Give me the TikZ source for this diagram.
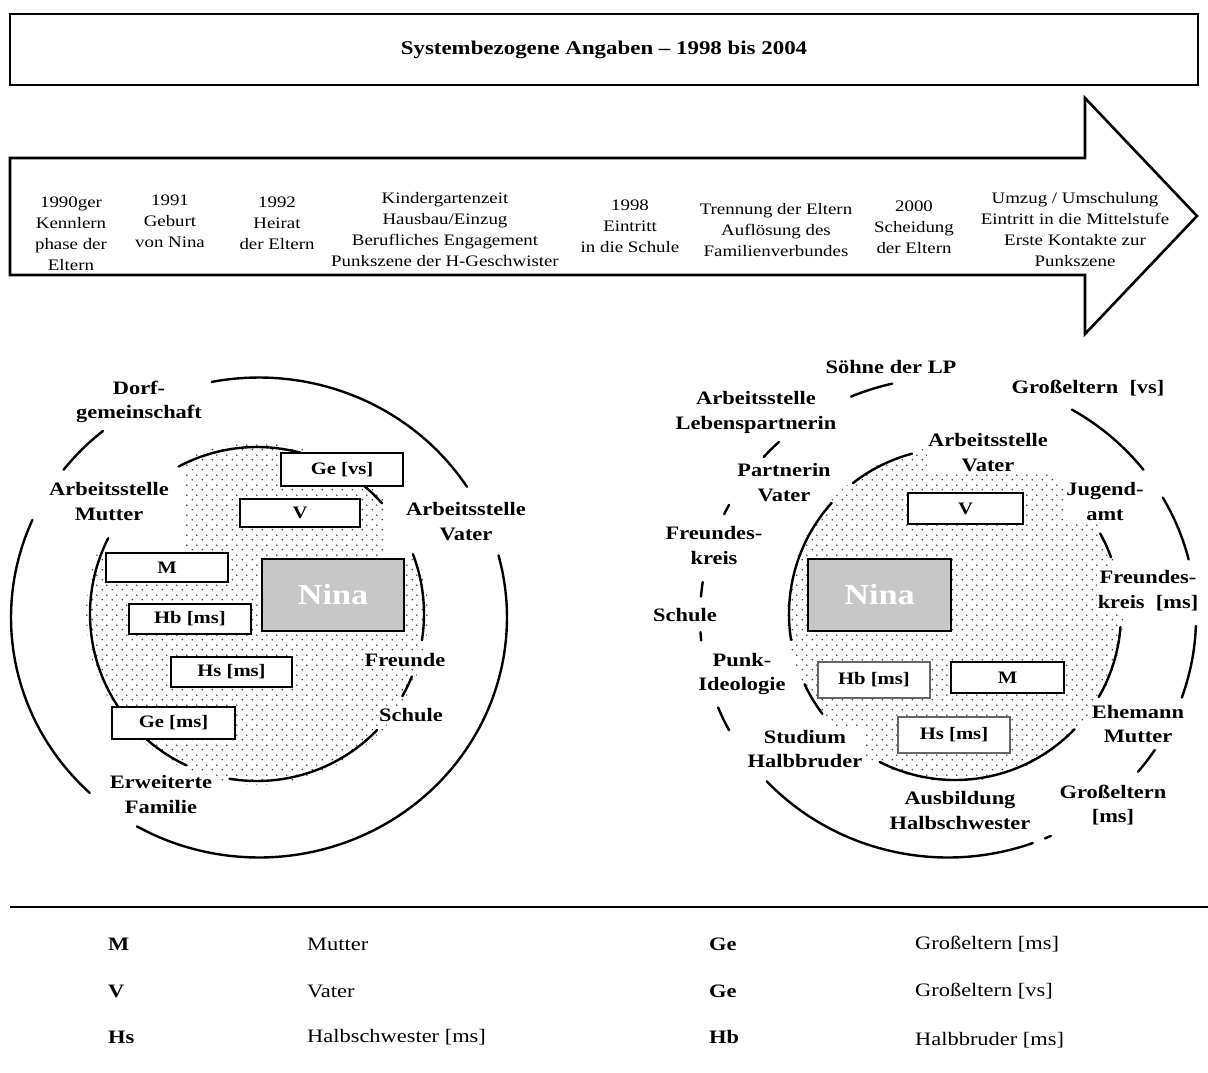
\documentclass[tikz,border=0pt]{standalone}
\usepackage{fontspec}
\setmainfont{Liberation Serif}[FakeStretch=1.18]
\usetikzlibrary{patterns}

% halftone dot screen used for the inner circles
\pgfdeclarepatternformonly{halftone}{\pgfpointorigin}{\pgfpoint{10pt}{10pt}}{\pgfpoint{10pt}{10pt}}{%
  \pgfpathcircle{\pgfpoint{2.5pt}{2.5pt}}{0.85pt}%
  \pgfpathcircle{\pgfpoint{7.5pt}{7.5pt}}{0.85pt}%
  \pgfusepath{fill}}

% elliptic arc: centre x, centre y, x radius, y radius, from angle, to angle
\newcommand{\ringarc}[6]{%
  \draw[ringline] plot[domain=#5:#6, samples=36, smooth, variable=\ang]
    ({#1+#3*cos(\ang)},{#2+#4*sin(\ang)});}

\tikzset{
  ringline/.style={line width=2.4pt, line cap=round},
  phasetext/.style={align=center, font=\fontsize{16}{21}\selectfont, inner sep=0pt},
  sectorlabel/.style={align=center, font=\bfseries\fontsize{19}{24.5}\selectfont, fill=white, inner sep=1pt},
  memberbox/.style={draw, line width=2.6pt, fill=white, inner sep=0pt, font=\bfseries\fontsize{17.5}{20}\selectfont},
  softbox/.style={memberbox, draw=black!60},
  egobox/.style={draw, line width=2.6pt, fill=black!22, text=white, inner sep=0pt, font=\bfseries\fontsize{29}{32}\selectfont},
  legkey/.style={anchor=west, inner sep=0pt, font=\bfseries\fontsize{19}{22}\selectfont},
  legtext/.style={anchor=west, inner sep=0pt, font=\fontsize{19}{22}\selectfont},
}

\begin{document}
\begin{tikzpicture}[x=1pt, y=-1pt]
\useasboundingbox (0,0) rectangle (1208,1072);

% title bar
\draw[line width=2pt] (10,14) rectangle (1198,85);
\node[font=\bfseries\fontsize{19.4}{23}\selectfont] (title) at (604,50) {Systembezogene Angaben -- 1998 bis 2004};

% time line arrow
\draw[line width=2.6pt, line join=miter] (10,158) -- (1085,158) -- (1085,98) -- (1197,216)
  -- (1085,334) -- (1085,275) -- (10,275) -- cycle;
\node[phasetext] (p1) at (71,233.5) {1990ger\\Kennlern\\phase der\\Eltern};
\node[phasetext] (p2) at (170,221) {1991\\Geburt\\von Nina};
\node[phasetext] (p3) at (277,223) {1992\\Heirat\\der Eltern};
\node[phasetext] (p4) at (445,230) {Kindergartenzeit\\Hausbau/Einzug\\Berufliches Engagement\\Punkszene der H-Geschwister};
\node[phasetext] (p5) at (630,226) {1998\\Eintritt\\in die Schule};
\node[phasetext] (p6) at (776,230) {Trennung der Eltern\\Auflösung des\\Familienverbundes};
\node[phasetext] (p7) at (914,227) {2000\\Scheidung\\der Eltern};
\node[phasetext] (p8) at (1075,230) {Umzug / Umschulung\\Eintritt in die Mittelstufe\\Erste Kontakte zur\\Punkszene};

% ---------- left network ----------
\begin{scope}
  \clip (257,614) circle[radius=171pt];
  \fill[pattern=halftone, pattern color=black!85]
    (186,430) -- (384,430) -- (384,558) -- (440,558) -- (440,800) -- (70,800) -- (70,553) -- (186,553) -- cycle;
\end{scope}

\node[sectorlabel] (lDorf) at (139,402) {Dorf-\\gemeinschaft};
\node[sectorlabel] (lAM) at (109,501.5) {Arbeitsstelle\\Mutter};
\node[sectorlabel] (lAV) at (466,521.5) {Arbeitsstelle\\Vater};
\node[sectorlabel] (lFr) at (405,660) {Freunde};
\node[sectorlabel] (lSch) at (411,715) {Schule};
\node[sectorlabel] (lEF) at (161,794.5) {Erweiterte\\Familie};

\ringarc{259}{617.5}{248}{240}{-101}{-33}
\ringarc{259}{617.5}{248}{240}{-15}{119.5}
\ringarc{259}{617.5}{248}{240}{133}{204}
\ringarc{259}{617.5}{248}{240}{218}{231}

\ringarc{257}{614}{167}{167}{-118}{-41.5}
\ringarc{257}{614}{167}{167}{-21}{9}
\ringarc{257}{614}{167}{167}{22}{29.5}
\ringarc{257}{614}{167}{167}{44}{99.5}
\ringarc{257}{614}{167}{167}{115}{207}

\node[memberbox, minimum width=122pt, minimum height=33pt] (lGevs) at (342,469.5) {Ge [vs]};
\node[memberbox, minimum width=120pt, minimum height=28pt] (lV) at (300,513) {V};
\node[memberbox, minimum width=122pt, minimum height=29pt] (lM) at (167,567.5) {M};
\node[egobox, minimum width=142pt, minimum height=72pt] (lNina) at (333,595) {Nina};
\node[memberbox, minimum width=122pt, minimum height=30pt] (lHb) at (190,619) {Hb [ms]};
\node[memberbox, minimum width=121pt, minimum height=30pt] (lHs) at (231.5,672) {Hs [ms]};
\node[memberbox, minimum width=123pt, minimum height=32pt] (lGems) at (173.5,723) {Ge [ms]};

% ---------- right network ----------
\begin{scope}
  \clip (955,614) circle[radius=168pt];
  \fill[pattern=halftone, pattern color=black!85] (700,400) rectangle (1200,800);
\end{scope}

\node[sectorlabel] (rSoehne) at (891,367) {Söhne der LP};
\node[sectorlabel] (rGevs) at (1088,388) {Großeltern\ \ [vs]};
\node[sectorlabel] (rALP) at (756,412.5) {Arbeitsstelle\\Lebenspartnerin};
\node[sectorlabel] (rAV) at (988,452.5) {Arbeitsstelle\\Vater};
\node[sectorlabel] (rPV) at (784,482.5) {Partnerin\\Vater};
\node[sectorlabel] (rJA) at (1105,501.5) {Jugend-\\amt};
\node[sectorlabel] (rFKl) at (714,545.5) {Freundes-\\kreis};
\node[sectorlabel] (rFKr) at (1148,590.5) {Freundes-\\kreis\ \ [ms]};
\node[sectorlabel] (rSch) at (685,615) {Schule};
\node[sectorlabel] (rPunk) at (742,674) {Punk-\\Ideologie};
\node[sectorlabel] (rStud) at (805,749) {Studium\\Halbbruder};
\node[sectorlabel] (rEM) at (1138,724) {Ehemann\\Mutter};
\node[sectorlabel] (rAusb) at (960,810.5) {Ausbildung\\Halbschwester};
\node[sectorlabel] (rGems) at (1113,805) {Großeltern\\{}[ms]};

\ringarc{948}{617.5}{248}{240}{-113}{-103}
\ringarc{948}{617.5}{248}{240}{-60}{-38}
\ringarc{948}{617.5}{248}{240}{-30}{-14}
\ringarc{948}{617.5}{248}{240}{2}{19.5}
\ringarc{948}{617.5}{248}{240}{33.5}{40}
\ringarc{948}{617.5}{248}{240}{65.5}{67}
\ringarc{948}{617.5}{248}{240}{70}{137}
\ringarc{948}{617.5}{248}{240}{152}{158}
\ringarc{948}{617.5}{248}{240}{174.5}{176.5}
\ringarc{948}{617.5}{248}{240}{185}{188.5}
\ringarc{948}{617.5}{248}{240}{205.5}{208}
\ringarc{948}{617.5}{248}{240}{222}{227}

\ringarc{955}{614}{166}{166}{-128}{-105}
\ringarc{955}{614}{166}{166}{171}{222}
\ringarc{955}{614}{166}{166}{143}{155}
\ringarc{955}{614}{166}{166}{44}{117}
\ringarc{955}{614}{166}{166}{4.5}{30}
\ringarc{955}{614}{166}{166}{-29}{-20}

\node[memberbox, minimum width=115pt, minimum height=31pt] (rV) at (965.5,508.5) {V};
\node[egobox, minimum width=143pt, minimum height=72pt] (rNina) at (879.5,595) {Nina};
\node[softbox, minimum width=112pt, minimum height=36pt] (rHb) at (874,680) {Hb [ms]};
\node[memberbox, minimum width=113pt, minimum height=31pt] (rM) at (1007.5,677.5) {M};
\node[softbox, minimum width=112pt, minimum height=36pt] (rHs) at (954,735) {Hs [ms]};

% ---------- legend ----------
\draw[line width=2pt] (10,907) -- (1208,907);
\node[legkey] (kM) at (108,944) {M};
\node[legtext] (tM) at (307,944) {Mutter};
\node[legkey] (kV) at (108,991) {V};
\node[legtext] (tV) at (307,991) {Vater};
\node[legkey] (kHs) at (108,1037) {Hs};
\node[legtext] (tHs) at (307,1037) {Halbschwester [ms]};
\node[legkey] (kGems) at (709,944) {Ge};
\node[legtext] (tGems) at (915,944) {Großeltern [ms]};
\node[legkey] (kGevs) at (709,991) {Ge};
\node[legtext] (tGevs) at (915,991) {Großeltern [vs]};
\node[legkey] (kHb) at (709,1037) {Hb};
\node[legtext] (tHb) at (915,1040) {Halbbruder [ms]};
\end{tikzpicture}
\end{document}
